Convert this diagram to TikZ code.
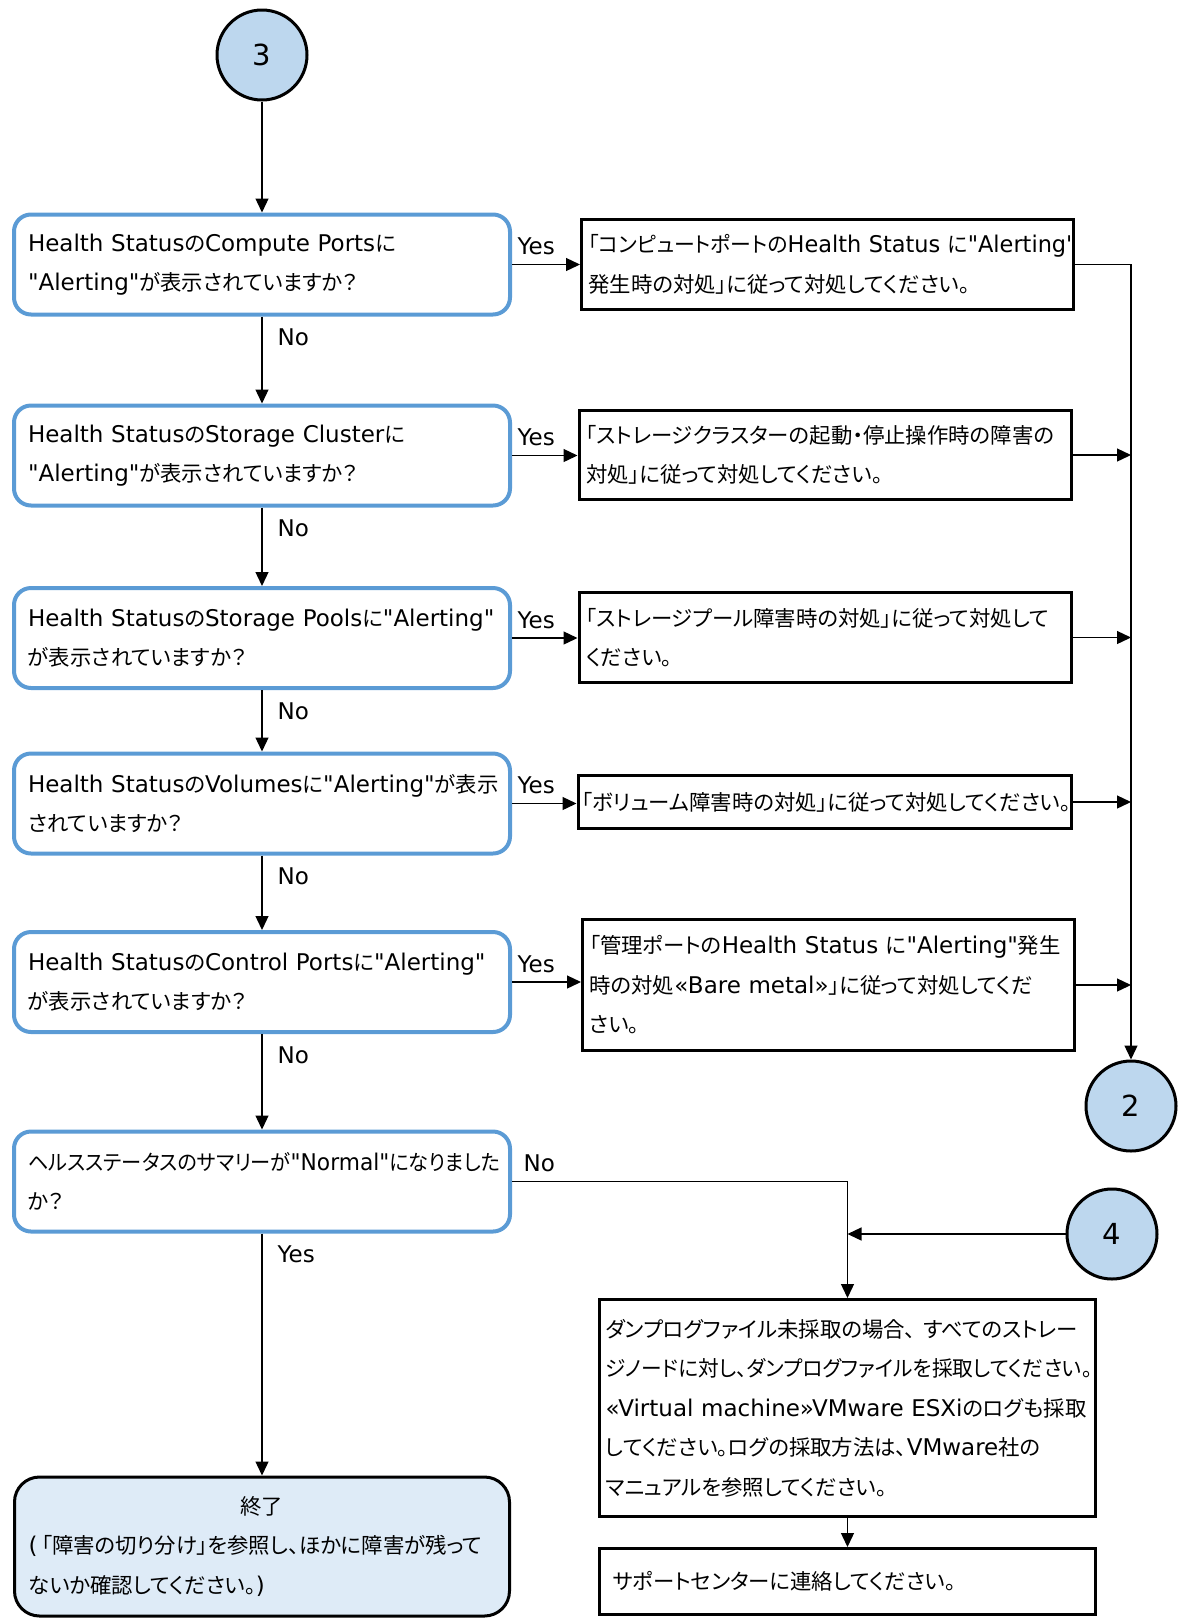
\documentclass[tikz,border=0pt]{standalone}
\usepackage{fontspec}
\usepackage{graphicx}
\newfontfamily\latf{DejaVu Sans}
\newfontfamily\cjkf{Noto Sans CJK JP}[RawFeature=+palt, Scale=0.93]
\usetikzlibrary{arrows.meta,calc}
\definecolor{dblue}{RGB}{91,155,213}
\definecolor{cfill}{RGB}{189,215,238}
\definecolor{efill}{RGB}{222,235,247}
\newcommand{\nbx}[1]{\mbox{#1}}
\newcommand{\sqz}[2]{\scalebox{#1}[1]{#2}}
% automatic font switching between Latin and CJK
\XeTeXinterchartokenstate=1
\newXeTeXintercharclass\CJKcls
\newcount\cjkcnt
\newcommand{\setcjkrange}[2]{%
  \cjkcnt=#1\relax
  \loop\XeTeXcharclass\cjkcnt=\CJKcls
    \ifnum\cjkcnt<#2\advance\cjkcnt by 1\relax\repeat}
\setcjkrange{"3000}{"30FF}
\setcjkrange{"4E00}{"9FFF}
\setcjkrange{"FF00}{"FFEF}
\XeTeXinterchartoks 0 \CJKcls = {\cjkf}
\XeTeXinterchartoks 4095 \CJKcls = {\cjkf}
\XeTeXinterchartoks \CJKcls 0 = {\latf}
\XeTeXinterchartoks \CJKcls 4095 = {\latf}
\tikzset{
  base/.style={font={\fontsize{23}{39.5}\selectfont\latf}, inner ysep=0pt, align=left},
  dec/.style={base, draw=dblue, line width=4pt, rounded corners=17pt, fill=white,
              text width=468pt, inner xsep=14pt, minimum height=100pt},
  act/.style={base, draw=black, line width=3pt, fill=white,
              text width=478pt, inner xsep=7pt},
  endbox/.style={base, draw=black, line width=3pt, rounded corners=25pt, fill=efill,
              text width=467pt, inner xsep=14pt, minimum height=139pt},
  conn/.style={circle, draw=black, line width=3pt, fill=cfill, minimum size=90pt,
              inner sep=0pt, font={\fontsize{29}{34}\selectfont\latf}},
  arr/.style={-{Triangle[length=14pt,width=13pt]}, line width=1.3pt},
  lbl/.style={font={\fontsize{23}{26}\selectfont\latf}, inner sep=1pt},
  nolbl/.style={lbl, pos=0, anchor=north west, xshift=14pt, yshift=-11pt},
  yeslbl/.style={lbl, pos=0, anchor=south west, xshift=4pt, yshift=8pt},
}
\begin{document}
\begin{tikzpicture}[x=1pt,y=-1pt]
\useasboundingbox (0,0) rectangle (1192,1618);

% connectors (circles)
\node[conn] (c3) at (262,55) {3};
\node[conn] (c2) at (1131,1106) {2};
\node[conn] (c4) at (1112,1234) {4};

% decisions
\node[dec] (d1) at (262,264.5) {\nbx{Health StatusのCompute Portsに}\\\nbx{"Alerting"が表示されていますか？}};
\node[dec] (d2) at (262,455.5) {\nbx{Health StatusのStorage Clusterに}\\\nbx{"Alerting"が表示されていますか？}};
\node[dec] (d3) at (262,638) {\nbx{Health StatusのStorage Poolsに"Alerting"}\\が表示されていますか？};
\node[dec] (d4) at (262,803.5) {\nbx{Health StatusのVolumesに"Alerting"が表示}\\されていますか？};
\node[dec] (d5) at (262,982) {\nbx{Health StatusのControl Portsに"Alerting"}\\が表示されていますか？};
\node[dec] (d6) at (262,1181.5) {\sqz{0.945}{ヘルスステータスのサマリーが"Normal"になりました}\\か？};

% actions
\node[act, minimum height=90pt] (a1) at (827.5,264.5) {\sqz{0.975}{「コンピュートポートのHealth Status に"Alerting"}\\発生時の対処」に従って対処してください。};
\node[act, minimum height=89pt] (a2) at (825,455) {「ストレージクラスターの起動・停止操作時の障害の\\対処」に従って対処してください。};
\node[act, minimum height=90pt] (a3) at (825,637.5) {「ストレージプール障害時の対処」に従って対処して\\ください。};
\node[act, minimum height=53pt, inner xsep=4pt, text width=485pt] (a4) at (824.5,802) {「ボリューム障害時の対処」に従って対処してください。};
\node[act, minimum height=131pt] (a5) at (828.5,985) {\nbx{「管理ポートのHealth Status に"Alerting"発生}\\\nbx{時の対処«Bare metal»」に従って対処してくだ}\\さい。};

% end
\node[endbox] (end) at (262,1546.5) {\makebox[\linewidth]{終了}\\(\kern4pt「障害の切り分け」を参照し、ほかに障害が残って\\ないか確認してください。)};

% dump & support
\node[act, minimum height=217pt, inner xsep=6pt, text width=484pt] (dump) at (847.5,1408) {\nbx{ダンプログファイル未採取の場合、 すべてのストレー}\\\sqz{0.967}{ジノードに対し、ダンプログファイルを採取してください。}\\\nbx{«Virtual machine»VMware ESXiのログも採取}\\\nbx{してください。ログの採取方法は、VMware社の}\\マニュアルを参照してください。};
\node[act, minimum height=66pt, inner xsep=13pt, text width=470pt] (sup) at (847.5,1581.5) {サポートセンターに連絡してください。};

% main column
\draw[arr] (c3) -- (d1);
\draw[arr] (d1) -- node[nolbl] (n1) {No} (d2);
\draw[arr] (d2) -- node[nolbl] (n2) {No} (d3);
\draw[arr] (d3) -- node[nolbl] (n3) {No} (d4);
\draw[arr] (d4) -- node[nolbl] (n4) {No} (d5);
\draw[arr] (d5) -- node[nolbl] (n5) {No} (d6);
\draw[arr] (d6) -- node[nolbl] (y6) {Yes} (end);

% yes branches
\draw[arr] (d1.east) -- node[yeslbl] (y1) {Yes} (d1.east -| a1.west);
\draw[arr] (d2.east) -- node[yeslbl] (y2) {Yes} (d2.east -| a2.west);
\draw[arr] (d3.east) -- node[yeslbl] (y3) {Yes} (d3.east -| a3.west);
\draw[arr] (d4.east) -- node[yeslbl] (y4) {Yes} (d4.east -| a4.west);
\draw[arr] (d5.east) -- node[yeslbl] (y5) {Yes} (d5.east -| a5.west);

% right trunk to 2
\draw[arr] (a1.east) -| (c2.north);
\draw[arr] (a2.east) -- (a2.east -| c2.north);
\draw[arr] (a3.east) -- (a3.east -| c2.north);
\draw[arr] (a4.east) -- (a4.east -| c2.north);
\draw[arr] (a5.east) -- (a5.east -| c2.north);

% No from d6 to dump, 4 joins
\draw[arr] (d6.east) -| node[yeslbl, xshift=6pt] (n6) {No} (dump.north);
\draw[arr] (c4.west) -- (c4.west -| dump.north);
\draw[arr] (dump) -- (sup);
\end{tikzpicture}
\end{document}
